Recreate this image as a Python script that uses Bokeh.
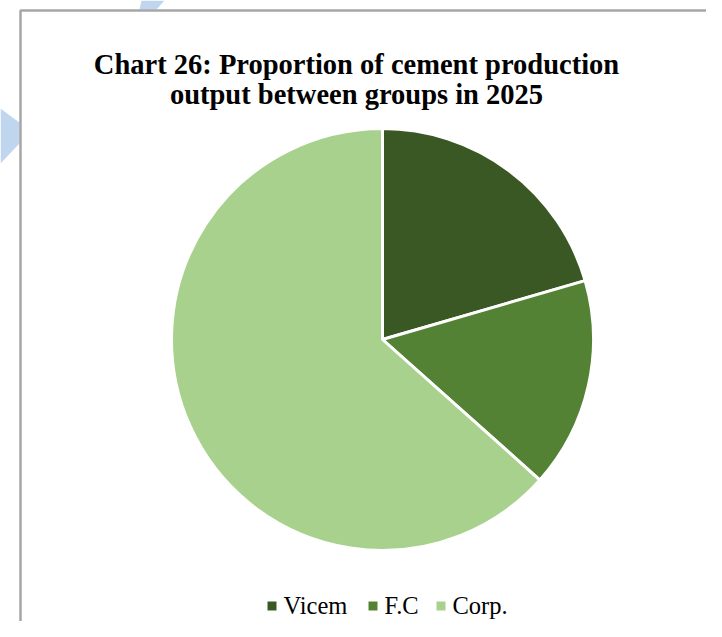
import math
from bokeh.plotting import figure
from bokeh.models import Range1d
from bokeh.core.properties import value
from bokeh.embed import file_html
from bokeh.resources import INLINE

# ---- data ----
categories = ["Vicem", "F.C", "Corp."]
shares = [20.5, 16.1, 63.4]
colors = ["#3A5824", "#548235", "#A9D18E"]
title_lines = ["Chart 26: Proportion of cement production",
               "output between groups in 2025"]

W, H = 706, 621
p = figure(width=W, height=H, output_backend="svg", toolbar_location=None,
           x_range=Range1d(0, W), y_range=Range1d(-H, 0),
           min_border=0, outline_line_color=None, background_fill_color="white",
           border_fill_color="white")
p.axis.visible = False
p.grid.visible = False

# decorative watermark pieces outside the chart box
p.patch([0, 12, 19, 19, 0], [-108, -117, -122, -143, -163], fill_color="#C0D6EE",
        line_color=None)
p.patch([141, 164, 156, 139], [0, 0, -9, -9], fill_color="#C0D6EE", line_color=None)

# chart box border
p.line([20, 20, 730], [-660, -10, -10], line_color="#A6A6A6", line_width=2.5)

# pie
cx, cy, r = 382, -339, 211
total = sum(shares)
starts, ends = [], []
acc = 0.0
for s in shares:
    starts.append(math.pi / 2 - 2 * math.pi * acc / total)
    acc += s
    ends.append(math.pi / 2 - 2 * math.pi * acc / total)
p.wedge(x=[cx] * len(shares), y=[cy] * len(shares), radius=r,
        start_angle=starts, end_angle=ends, direction="clock",
        fill_color=colors, line_color="white", line_width=3)

# title
p.text(x=[356, 356], y=[-64, -94], text=title_lines,
       text_font=value("Liberation Serif"), text_font_style="bold",
       text_font_size="28.5px", text_align="center", text_baseline="alphabetic",
       text_color="black")

# legend
leg_x = [271.5, 372.5, 440.5]
p.scatter(x=leg_x, y=[-605.5] * 3, marker="square", size=9, fill_color=colors,
          line_color=None)
p.text(x=[x + 11.5 for x in leg_x], y=[-605] * 3, text=categories,
       text_font=value("Liberation Serif"), text_font_size="24.5px",
       text_align="left", text_baseline="alphabetic", text_color="black")

open("out.html", "w").write(file_html(p, INLINE))
